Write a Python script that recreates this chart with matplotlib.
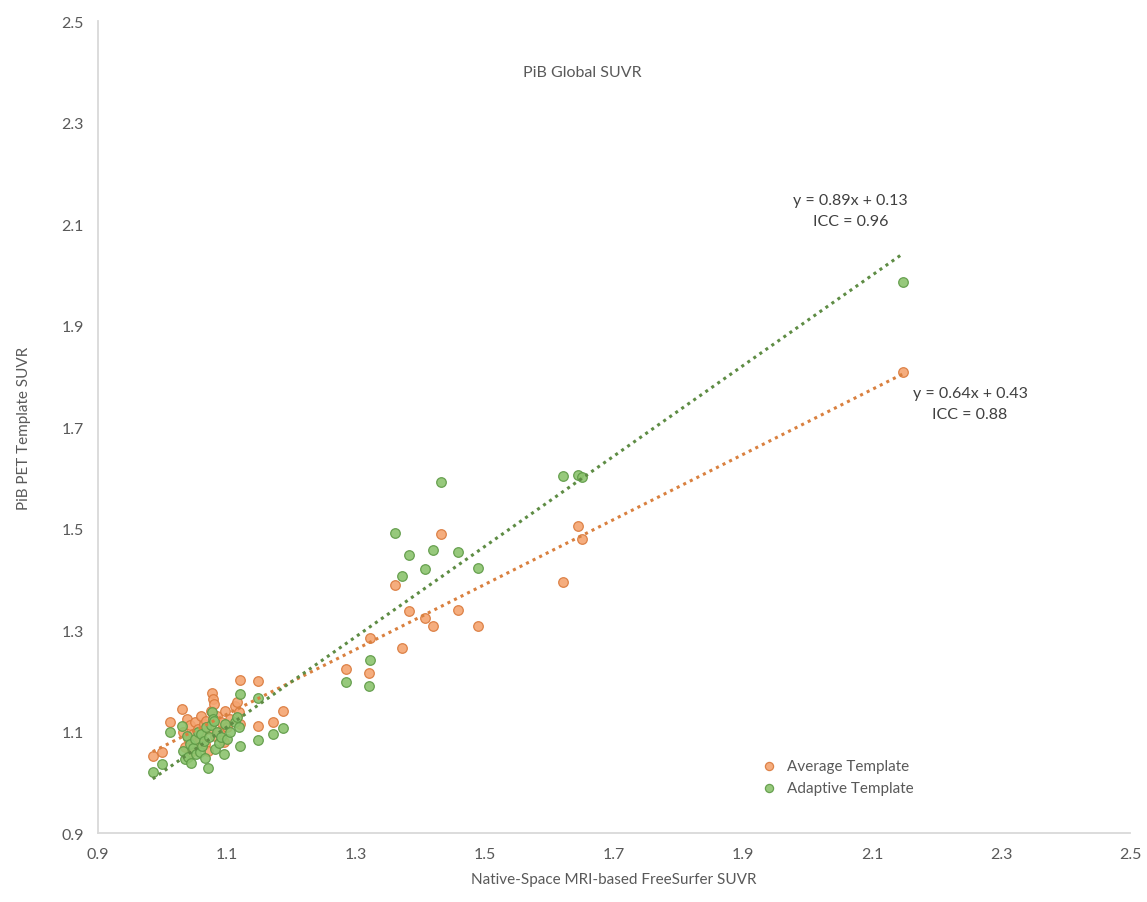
import numpy as np
import matplotlib
matplotlib.use('Agg')
import matplotlib.pyplot as plt

plt.rcParams['font.family'] = ['Lato', 'DejaVu Sans']

# native-space FreeSurfer SUVR (shared by both templates)
x_native = [0.985, 0.999, 1.012, 1.030, 1.032, 1.035, 1.038, 1.040, 1.042, 1.045,
            1.048, 1.050, 1.052, 1.055, 1.058, 1.060, 1.062, 1.065, 1.066, 1.068,
            1.070, 1.072, 1.075, 1.077, 1.078, 1.080, 1.082, 1.085, 1.088, 1.090,
            1.095, 1.097, 1.100, 1.105, 1.112, 1.115, 1.118, 1.120, 1.120, 1.148,
            1.148, 1.171, 1.187,
            1.284, 1.320, 1.322, 1.360, 1.371, 1.382, 1.407, 1.419, 1.432, 1.458,
            1.489, 1.621, 1.644, 1.650, 2.148]

y_average = [1.052, 1.060, 1.119, 1.144, 1.100, 1.070, 1.125, 1.088, 1.112, 1.060,
             1.095, 1.118, 1.078, 1.105, 1.085, 1.130, 1.098, 1.115, 1.075, 1.120,
             1.062, 1.105, 1.140, 1.176, 1.165, 1.155, 1.092, 1.130, 1.100, 1.118,
             1.080, 1.140, 1.108, 1.125, 1.150, 1.158, 1.138, 1.201, 1.115, 1.200,
             1.111, 1.119, 1.140,
             1.223, 1.215, 1.284, 1.389, 1.265, 1.337, 1.324, 1.308, 1.489, 1.339,
             1.308, 1.395, 1.505, 1.479, 1.808]

y_adaptive = [1.020, 1.036, 1.099, 1.110, 1.062, 1.045, 1.092, 1.050, 1.075, 1.038,
              1.068, 1.085, 1.055, 1.100, 1.060, 1.095, 1.072, 1.082, 1.048, 1.108,
              1.028, 1.090, 1.112, 1.138, 1.125, 1.120, 1.065, 1.100, 1.078, 1.090,
              1.056, 1.115, 1.085, 1.100, 1.118, 1.128, 1.108, 1.174, 1.071, 1.166,
              1.083, 1.095, 1.107,
              1.198, 1.190, 1.241, 1.491, 1.406, 1.448, 1.420, 1.458, 1.592, 1.454,
              1.422, 1.603, 1.605, 1.601, 1.986]

# trendline coefficients as printed on the chart
fit_average = (0.64, 0.43)
fit_adaptive = (0.89, 0.13)

ticks = [0.9, 1.1, 1.3, 1.5, 1.7, 1.9, 2.1, 2.3, 2.5]

fig = plt.figure(figsize=(11.47, 9.03), dpi=100)
ax = fig.add_axes([0.0854, 0.0764, 0.8998, 0.8992])

orange_fill, orange_edge, orange_line = '#F4A470', '#DA7A3C', '#D9803F'
green_fill, green_edge, green_line = '#8CC46E', '#5E9A46', '#5E8C44'

x_arr = np.array(x_native)
xl = np.array([min(x_arr), max(x_arr)])

ax.scatter(x_native, y_average, s=48, facecolor=orange_fill, edgecolor=orange_edge,
           linewidth=0.9, alpha=0.9, zorder=3, label='Average Template')
ax.scatter(x_native, y_adaptive, s=48, facecolor=green_fill, edgecolor=green_edge,
           linewidth=0.9, alpha=0.9, zorder=4, label='Adaptive Template')

ax.plot(xl, fit_average[0] * xl + fit_average[1], color=orange_line,
        linestyle=(0, (1, 1.4)), linewidth=2.2, zorder=5)
ax.plot(xl, fit_adaptive[0] * xl + fit_adaptive[1], color=green_line,
        linestyle=(0, (1, 1.4)), linewidth=2.2, zorder=5)

ax.set_xlim(0.9, 2.5)
ax.set_ylim(0.9, 2.5)
ax.set_xticks(ticks)
ax.set_yticks(ticks)
ax.set_xticklabels([f'{t:.1f}' for t in ticks])
ax.set_yticklabels([f'{t:.1f}' for t in ticks])
ax.tick_params(length=0, labelsize=11.5, colors='#595959', pad=10)

for name in ['top', 'right']:
    ax.spines[name].set_visible(False)
for name in ['left', 'bottom']:
    ax.spines[name].set_color('#D9D9D9')
    ax.spines[name].set_linewidth(1.3)

ax.text(0.469, 0.937, 'PiB Global SUVR', transform=ax.transAxes, ha='center',
        va='center', fontsize=11.5, color='#595959')

ax.set_xlabel('Native-Space MRI-based FreeSurfer SUVR', fontsize=11, color='#595959',
              labelpad=8)
ax.set_ylabel('PiB PET Template SUVR', fontsize=11, color='#595959', labelpad=22)

ax.text(0.729, 0.767, 'y = 0.89x + 0.13\nICC = 0.96', transform=ax.transAxes,
        ha='center', va='center', fontsize=11.5, color='#404040', linespacing=1.65)
ax.text(0.845, 0.529, 'y = 0.64x + 0.43\nICC = 0.88', transform=ax.transAxes,
        ha='center', va='center', fontsize=11.5, color='#404040', linespacing=1.65)

ax.legend(loc='center left', bbox_to_anchor=(0.622, 0.069), frameon=False,
          fontsize=11, labelcolor='#595959', handletextpad=0.2,
          scatterpoints=1, markerscale=0.85, labelspacing=0.55)

fig.savefig('out.png', dpi=100)
